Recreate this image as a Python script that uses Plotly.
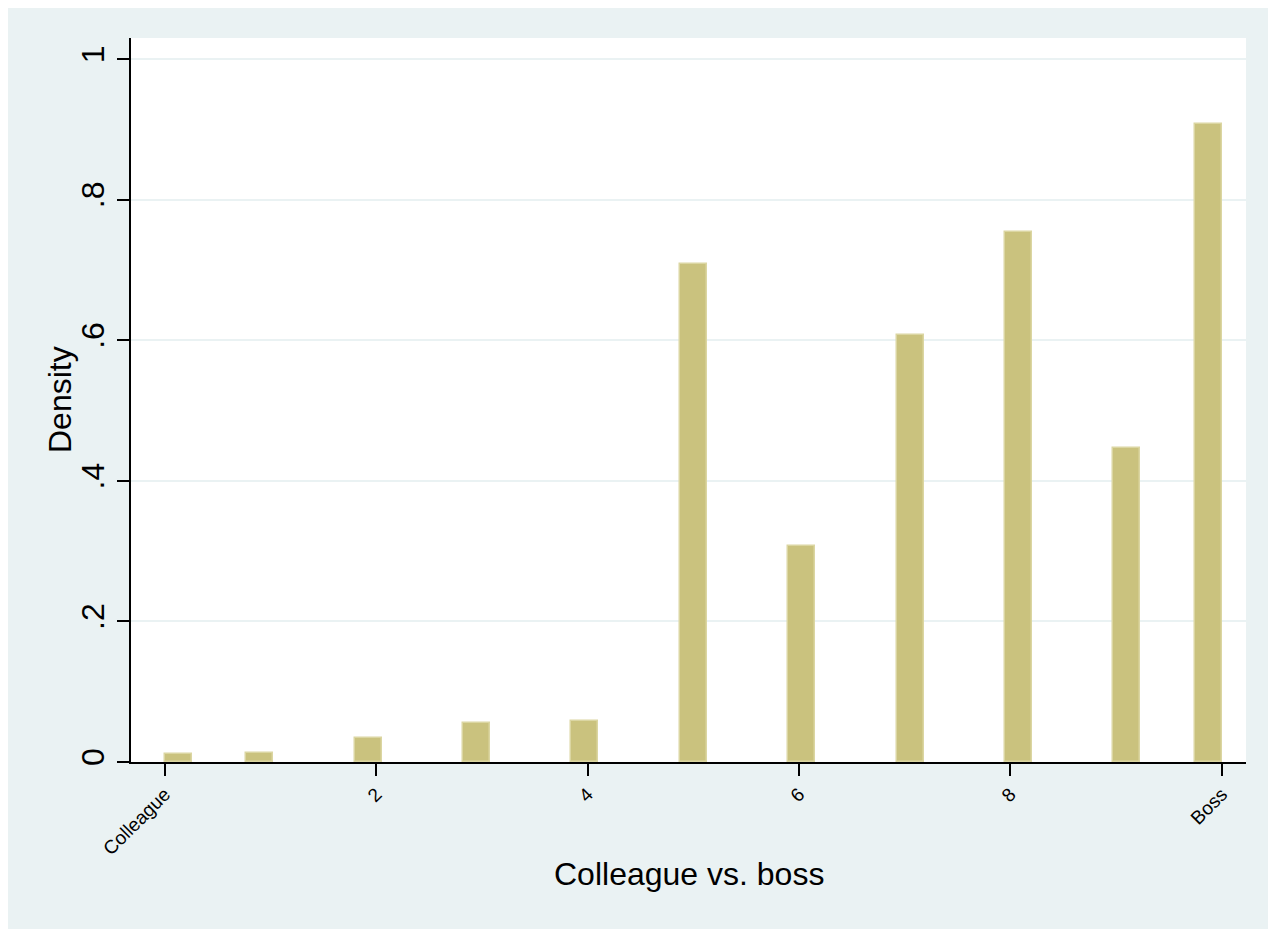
import math
import plotly.graph_objects as go

# Data
values = [0, 1, 2, 3, 4, 5, 6, 7, 8, 9, 10]
density = [0.011, 0.013, 0.034, 0.055, 0.058, 0.708, 0.307, 0.607, 0.754, 0.447, 0.9075]
n_bins = 39
x_min, x_max = 0, 10
tick_vals = [0, 2, 4, 6, 8, 10]
tick_text = ["Colleague", "2", "4", "6", "8", "Boss"]
y_tick_vals = [0, 0.2, 0.4, 0.6, 0.8, 1]
y_tick_text = ["0", ".2", ".4", ".6", ".8", "1"]

# histogram binning (Stata-style, 39 equal-width bins)
bw = (x_max - x_min) / n_bins
centers = []
for v in values:
    idx = min(int(math.floor((v - x_min) / bw + 1e-9)), n_bins - 1)
    centers.append(x_min + idx * bw + bw / 2)

BG = "#EAF2F3"
FONT = "Liberation Sans, Arial, Helvetica, sans-serif"

fig = go.Figure()
fig.add_trace(go.Bar(
    x=centers, y=density, width=[bw] * len(values),
    marker=dict(color="#CAC27E", line=dict(color="#DBD6A2", width=1.5)),
    hoverinfo="skip", showlegend=False,
))

W, H = 1268, 921
L, T, R, B = 123, 30, 30, 167
pw, ph = W - L - R, H - T - B

fig.update_layout(
    width=W, height=H,
    margin=dict(l=L, r=R, t=T, b=B, pad=0),
    paper_bgcolor=BG,
    plot_bgcolor="white",
    font=dict(family=FONT, color="black"),
    bargap=0,
    annotations=[
        dict(text="Colleague vs. boss", xref="paper", yref="paper",
             x=0.5, y=-112 / ph, xanchor="center", yanchor="middle",
             showarrow=False, font=dict(size=32, family=FONT)),
        dict(text="Density", xref="paper", yref="paper",
             x=-71 / pw, y=0.5, xanchor="center", yanchor="middle",
             textangle=-90, showarrow=False, font=dict(size=32, family=FONT)),
    ],
)

fig.update_xaxes(
    range=[-0.32, 10.23],
    tickvals=tick_vals, ticktext=tick_text,
    tickangle=-45, tickfont=dict(size=19, family=FONT),
    ticks="outside", ticklen=12, tickwidth=1.5, tickcolor="black",
    showline=True, linecolor="black", linewidth=1.5,
    showgrid=False, zeroline=False,
)
fig.update_yaxes(
    range=[0, 1.03],
    tickvals=y_tick_vals, ticktext=y_tick_text,
    tickangle=-90, tickfont=dict(size=32, family=FONT),
    ticks="outside", ticklen=12, tickwidth=1.5, tickcolor="black",
    showline=True, linecolor="black", linewidth=1.5,
    showgrid=True, gridcolor=BG, gridwidth=2,
    zeroline=False,
)

fig.write_html("out.html")
